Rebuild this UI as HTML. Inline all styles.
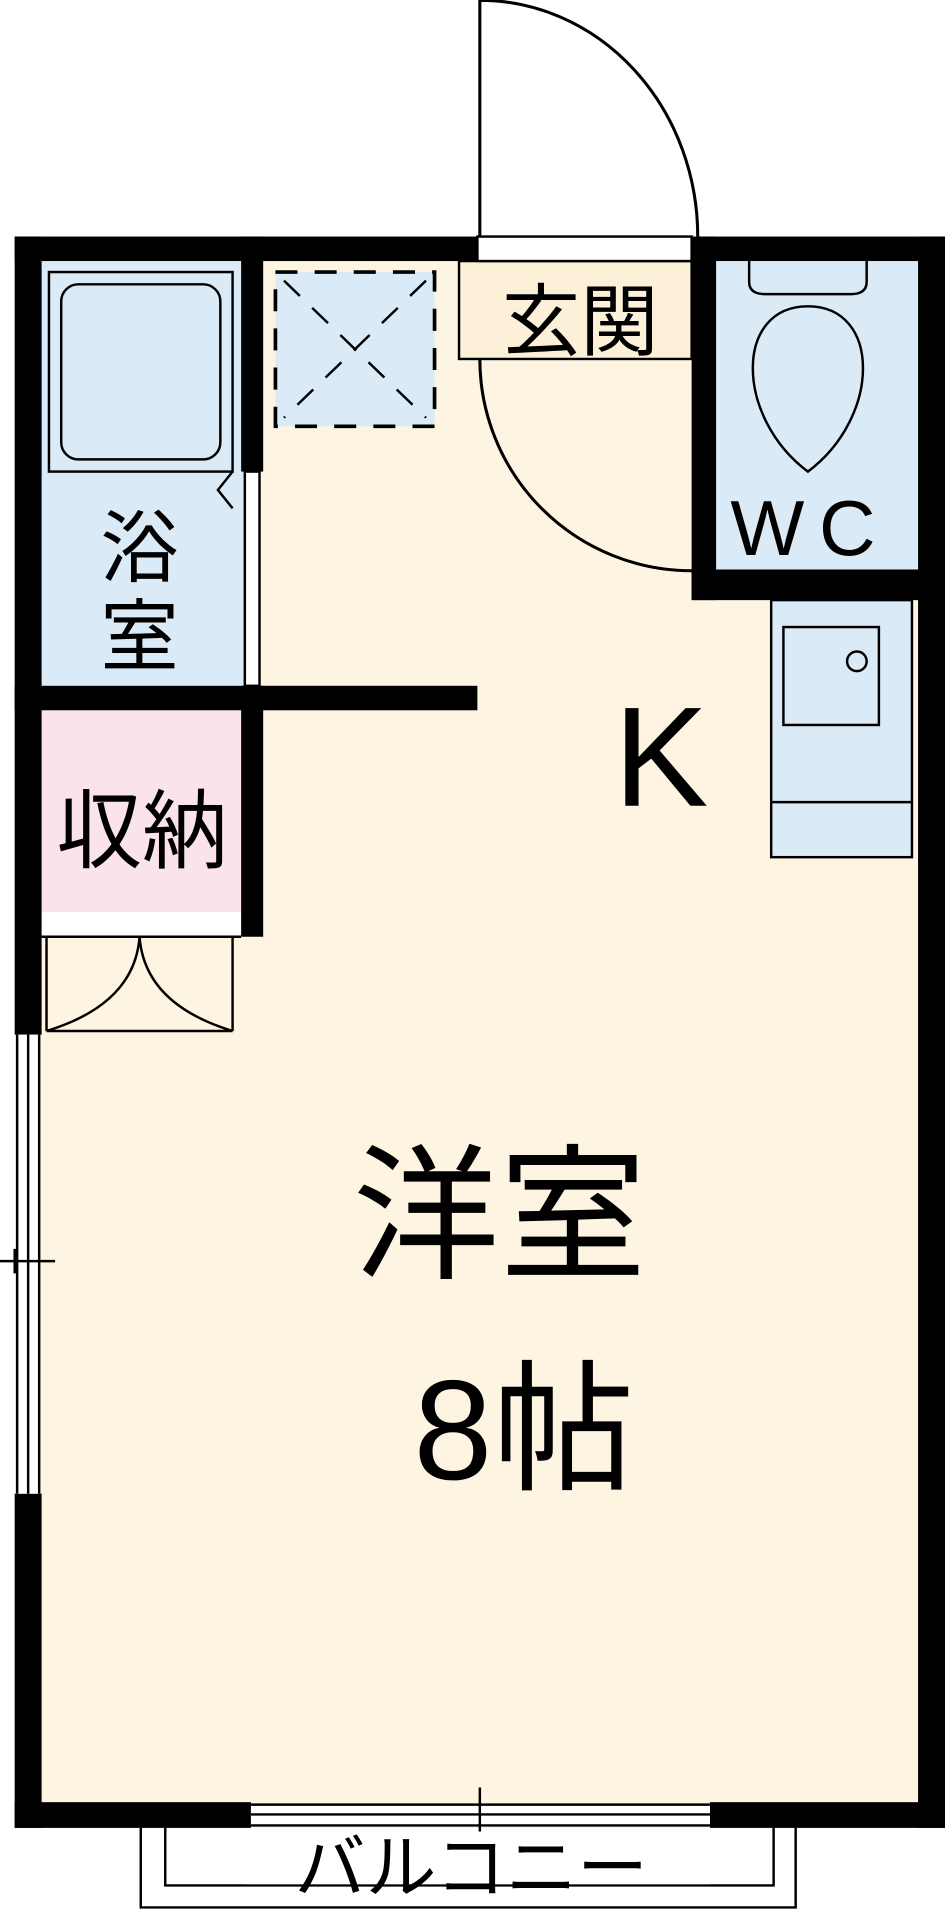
<!DOCTYPE html>
<html><head><meta charset="utf-8"><style>html,body{margin:0;padding:0;background:#fff}svg{display:block}</style></head>
<body>
<svg width="945" height="1920" viewBox="0 0 772 1568" xmlns="http://www.w3.org/2000/svg" font-family="'Liberation Sans','Noto Sans CJK JP',sans-serif">
<rect x="12" y="193" width="758" height="1300" fill="#fdf5e2"/>
<rect x="34" y="213" width="165" height="347" fill="#dbeaf7"/>
<rect x="40" y="222" width="150" height="163" fill="none" stroke="#000" stroke-width="2"/>
<rect x="50" y="232" width="130" height="143" rx="14" fill="none" stroke="#000" stroke-width="2"/>
<path d="M190 385 L178 400 L190 415" fill="none" stroke="#000" stroke-width="2"/>
<text x="114" y="470" font-size="64" text-anchor="middle">浴</text>
<text x="114" y="542" font-size="64" text-anchor="middle">室</text>
<rect x="34" y="580" width="165" height="165" fill="#fbe3ea"/>
<text x="116" y="703" font-size="70" text-anchor="middle">収納</text>
<rect x="34" y="745" width="165" height="20" fill="#fff"/>
<line x1="34" y1="765" x2="197" y2="765" stroke="#000" stroke-width="2"/>
<path d="M38 765 V842 M190 765 V842 M38 842 Q110 820 114 765 M190 842 Q118 820 114 765 M38 842 H190" fill="none" stroke="#000" stroke-width="2"/>
<rect x="225" y="222" width="130" height="126" fill="#dbeaf7" stroke="#000" stroke-width="3" stroke-dasharray="18 14"/>
<path d="M232 229 L348 341 M348 229 L232 341" stroke="#000" stroke-width="2" stroke-dasharray="18 14"/>
<rect x="375" y="213" width="190" height="80" fill="#fdf0d8" stroke="#000" stroke-width="2"/>
<text x="474" y="285" font-size="64" text-anchor="middle">玄関</text>
<rect x="585" y="213" width="165" height="252" fill="#dbeaf7"/>
<path d="M612 213 V230 Q612 240 625 240 H695 Q708 240 708 230 V213" fill="none" stroke="#000" stroke-width="2"/>
<path d="M660 250 C600 250 600 340 660 385 C720 340 720 250 660 250 Z" fill="none" stroke="#000" stroke-width="2"/>
<text x="662" y="453" font-size="64" text-anchor="middle" letter-spacing="12">WC</text>
<rect x="630" y="490" width="115" height="210" fill="#dbeaf7" stroke="#000" stroke-width="2"/>
<rect x="640" y="512" width="78" height="80" fill="none" stroke="#000" stroke-width="2"/>
<circle cx="700" cy="540" r="8" fill="none" stroke="#000" stroke-width="2"/>
<line x1="630" y1="655" x2="745" y2="655" stroke="#000" stroke-width="2"/>
<g fill="#000">
<rect x="12" y="193" width="378" height="20"/>
<rect x="565" y="193" width="207" height="20"/>
<rect x="750" y="193" width="22" height="1300"/>
<rect x="12" y="193" width="22" height="652"/>
<rect x="12" y="1220" width="22" height="273"/>
<rect x="12" y="1472" width="193" height="21"/>
<rect x="580" y="1472" width="192" height="21"/>
<rect x="197" y="193" width="18" height="192"/>
<rect x="197" y="560" width="18" height="205"/>
<rect x="12" y="560" width="378" height="20"/>
<rect x="565" y="193" width="20" height="297"/>
<rect x="565" y="465" width="207" height="25"/>
</g>
<rect x="200" y="385" width="12" height="175" fill="#fff" stroke="#000" stroke-width="2"/>
<rect x="390" y="193" width="175" height="20" fill="#fff" stroke="#000" stroke-width="2"/>
<path d="M392 193 V0 A178 193 0 0 1 570 193" fill="none" stroke="#000" stroke-width="2.5"/>
<path d="M392 293 A173 173 0 0 0 565 466" fill="none" stroke="#000" stroke-width="2.5"/>
<rect x="14" y="845" width="18" height="375" fill="#fff"/>
<path d="M14 845 V1220 M32 845 V1220 M23 845 V1220 M0 1030 H45 M12 1020 V1040" stroke="#000" stroke-width="2"/>
<rect x="205" y="1474" width="375" height="17" fill="#fff"/>
<path d="M205 1474 H580 M205 1491 H580 M205 1482 H580 M392 1460 V1505" stroke="#000" stroke-width="2"/>
<path d="M115 1493 V1558 H650 V1493 M135 1493 V1540 H632 V1493" fill="none" stroke="#000" stroke-width="2"/>
<rect x="200" y="1496" width="380" height="43" fill="#fff"/>
<text x="385" y="1546" font-size="58" text-anchor="middle">バルコニー</text>
<text x="540" y="658" font-size="116" text-anchor="middle">K</text>
<text x="408" y="1035" font-size="120" text-anchor="middle">洋室</text>
<text x="428" y="1208" font-size="116" text-anchor="middle">8帖</text>
</svg>
</body></html>
